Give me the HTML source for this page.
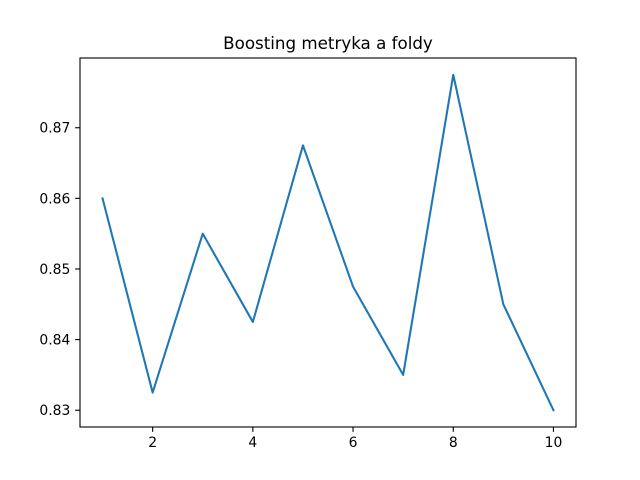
<!DOCTYPE html>
<html><head><meta charset="utf-8"><style>
body{margin:0;background:#fff}
svg{display:block;font-family:"DejaVu Sans","Liberation Sans",sans-serif}
</style></head><body>
<svg id="chart" width="640" height="480" xmlns="http://www.w3.org/2000/svg">
<rect width="640" height="480" fill="#fff"/>
<text x="328" y="49" font-size="16.7" text-anchor="middle" fill="#000">Boosting metryka a foldy</text>
<g id="axes"></g>
</svg>
<script>
const folds = [1,2,3,4,5,6,7,8,9,10];
const metric = [0.860,0.8325,0.855,0.8425,0.8675,0.8475,0.835,0.8775,0.845,0.830];
const xTicks = [2,4,6,8,10];
const yTicks = [0.83,0.84,0.85,0.86,0.87];
const yTickLabels = ["0.83","0.84","0.85","0.86","0.87"];

const L=80,R=576,T=58,B=427;
const xmin=Math.min(...folds),xmax=Math.max(...folds);
const ymin0=Math.min(...metric),ymax0=Math.max(...metric);
const xm=(xmax-xmin)*0.05, ym=(ymax0-ymin0)*0.05;
const x0=xmin-xm,x1=xmax+xm,y0=ymin0-ym,y1=ymax0+ym;
const sx=v=>L+(v-x0)/(x1-x0)*(R-L);
const sy=v=>B-(v-y0)/(y1-y0)*(B-T);
const NS="http://www.w3.org/2000/svg";
const g=document.getElementById('axes');
function mk(tag,attrs){const e=document.createElementNS(NS,tag);for(const k in attrs)e.setAttribute(k,attrs[k]);g.appendChild(e);return e;}

const line=mk('polyline',{points:folds.map((f,i)=>sx(f)+','+sy(metric[i])).join(' '),fill:'none',stroke:'#1f77b4','stroke-width':2.08,'stroke-linejoin':'round','stroke-linecap':'square'});



xTicks.forEach(t=>{
  const tk=mk('line',{x1:sx(t),x2:sx(t),y1:B,y2:B+4.86,stroke:'#000','stroke-width':1.1});
  
  
  const tx=mk('text',{x:sx(t),y:B+20,'font-size':13.9,'text-anchor':'middle',fill:'#000'});
  tx.textContent=t;
  
  
});
yTicks.forEach((t,i)=>{
  const tk=mk('line',{x1:L-4.86,x2:L,y1:sy(t),y2:sy(t),stroke:'#000','stroke-width':1.1});
  
  
  const tx=mk('text',{x:L-9.7,y:sy(t)+5,'font-size':13.9,'text-anchor':'end',fill:'#000'});
  tx.textContent=yTickLabels[i];
  
  
});
const frame=mk('rect',{x:L,y:T,width:R-L,height:B-T,fill:'none',stroke:'#000','stroke-width':1.1});


</script>
</body></html>
